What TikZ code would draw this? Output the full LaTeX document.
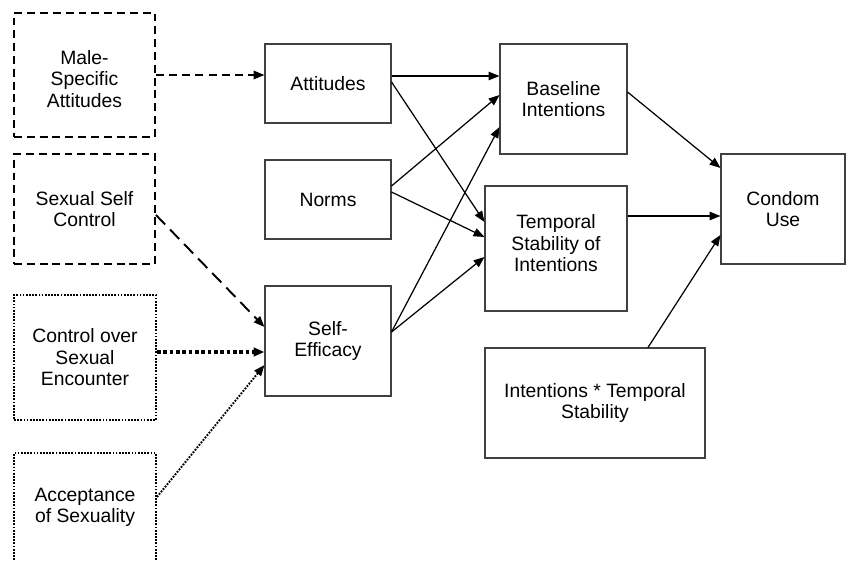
\documentclass[tikz,border=0pt]{standalone}
\usepackage{fontspec}
\setmainfont{Liberation Sans}
\usetikzlibrary{arrows.meta,calc}
\tikzset{
  varbox/.style={draw=black!75,line width=.6pt,align=center,inner sep=2pt,font=\fontsize{11}{12.2}\selectfont},
  dashbox/.style={varbox,draw=black,line width=1.1pt,dash pattern=on 4.5pt off 2.8pt},
  dotbox/.style={varbox,draw=black,line width=1.1pt,dash pattern=on 1pt off .8pt},
  flow/.style={-{Triangle[length=6.2pt,width=4.8pt]},line width=.7pt},
  dashflow/.style={flow,line width=1.1pt,dash pattern=on 4.5pt off 3pt},
  longdashflow/.style={flow,line width=1.1pt,dash pattern=on 7.5pt off 4pt},
  thickdotflow/.style={flow,line width=2.2pt,dash pattern=on 2.2pt off 1.4pt},
  dotflow/.style={flow,line width=1.1pt,dash pattern=on 1pt off .8pt},
}

\begin{document}
\begin{tikzpicture}[x=.02cm,y=-.02cm]
    \useasboundingbox (0,0) rectangle (846,561);
    \clip (0,0) rectangle (846,561);
    % outer predictors
    \node[dashbox,minimum width=2.82cm,minimum height=2.48cm,text height=37pt] (msa) at (84.5,75) {Male-\\Specific\\Attitudes};
    \node[dashbox,minimum width=2.82cm,minimum height=2.2cm] (ssc) at (84.5,209) {Sexual Self\\Control};
    \node[dotbox,minimum width=2.84cm,minimum height=2.5cm] (cse) at (85,357.5) {Control over\\Sexual\\Encounter};
    \node[dotbox,minimum width=2.84cm,minimum height=2.4cm,text depth=9pt] (aos) at (85,513) {Acceptance\\of Sexuality};
    % TPB constructs
    \node[varbox,minimum width=2.52cm,minimum height=1.58cm] (att) at (328,83.5) {Attitudes};
    \node[varbox,minimum width=2.52cm,minimum height=1.58cm] (nrm) at (328,199.5) {Norms};
    \node[varbox,minimum width=2.52cm,minimum height=2.2cm] (seff) at (328,341) {Self-\\Efficacy};
    \node[varbox,minimum width=2.54cm,minimum height=2.2cm] (bint) at (563.5,99) {Baseline\\Intentions};
    \node[varbox,minimum width=2.84cm,minimum height=2.5cm,text depth=6pt] (tsi) at (556,248.5) {Temporal\\Stability of\\Intentions};
    \node[varbox,minimum width=4.4cm,minimum height=2.2cm] (its) at (595,403) {Intentions * Temporal\\Stability};
    \node[varbox,minimum width=2.48cm,minimum height=2.2cm] (cu) at (783,209) {Condom\\Use};
    % paths
    \draw[dashflow] (msa.east) -- (msa.east -| att.west);
    \draw[longdashflow] ($(ssc.east)+(0,6)$) -- ($(seff.west)+(0,-14)$);
    \draw[thickdotflow] ($(cse.east)+(0,-5.5)$) -- ($(seff.west)+(0,11)$);
    \draw[dotflow] ($(aos.east)+(0,-16)$) -- ($(seff.west)+(0,24)$);
    \draw[flow] ($(att.east)+(0,-7.5)$) -- ($(bint.west)+(0,-23)$);
    \draw[flow] ($(att.east)+(0,-1.5)$) -- ($(tsi.west)+(0,-26.5)$);
    \draw[flow] ($(nrm.east)+(0,-13.5)$) -- ($(bint.west)+(0,-4)$);
    \draw[flow] ($(nrm.east)+(0,-7.5)$) -- ($(tsi.west)+(0,-11.5)$);
    \draw[flow] ($(seff.east)+(0,-9)$) -- ($(bint.west)+(0,28)$);
    \draw[flow] ($(seff.east)+(0,-9)$) -- ($(tsi.west)+(0,8.5)$);
    \draw[flow] ($(bint.east)+(0,-7)$) -- ($(cu.west)+(0,-41)$);
    \draw[flow] ($(tsi.east)+(0,-32.5)$) -- ($(cu.west)+(0,7)$);
    \draw[flow] ($(its.north)+(53,0)$) -- ($(cu.west)+(0,26)$);
\end{tikzpicture}
\end{document}
